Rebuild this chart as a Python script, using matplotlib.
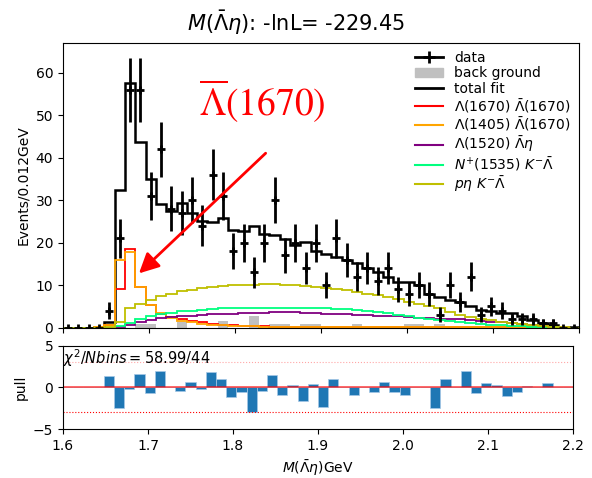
import numpy as np
import matplotlib
matplotlib.use("Agg")
import matplotlib.pyplot as plt
from matplotlib.patches import Patch
from matplotlib.lines import Line2D

# --- Binning: 50 bins of 0.012 GeV ---
edges = np.round(np.linspace(1.6, 2.2, 51), 4)
centers = 0.5 * (edges[:-1] + edges[1:])

# --- Data counts per bin ---
data = [0, 0, 0, 0, 4, 21, 56, 56, 31, 42,
        28, 27, 30, 24, 36, 31, 18, 20, 13, 20,
        30, 17, 20, 14, 20, 10, 21, 16, 12, 14,
        11, 14, 9, 8, 10, 8, 3, 10, 6, 12,
        3, 5, 4, 2, 2, 2, 1, 1, 0, 0]

total_fit = [0.0, 0.0, 0.0, 0.2, 1.2, 32.5, 57.5, 43.8, 35.0, 29.0,
             27.5, 29.3, 27.0, 25.0, 24.9, 25.7, 22.9, 22.7, 23.8, 22.0,
             21.8, 20.9, 19.4, 20.2, 18.0, 17.3, 16.6, 16.0, 15.3, 14.0,
             13.0, 11.8, 10.8, 10.7, 10.0, 8.0, 7.3, 6.5, 6.0, 5.1,
             4.2, 3.8, 3.4, 3.4, 2.8, 1.8, 1.0, 0.6, 0.2, 0.05]

background = [0, 0, 0, 0, 0, 0, 0, 0.8, 0.8, 0,
              0, 1.4, 0, 0, 0, 1.5, 0, 0, 2.8, 0,
              0.9, 0.9, 0, 0.8, 0.8, 0, 0, 0, 0.8, 0,
              0, 0, 0, 0.8, 0.8, 0, 0.8, 0, 0, 0,
              0, 0, 0, 0, 0, 0, 0, 0, 0, 0]

lam1670 = [0, 0, 0, 0, 0.5, 9.0, 18.6, 9.6, 5.2, 3.3,
           2.5, 2.0, 1.6, 1.2, 0.9, 0.6, 0.5, 0.4, 0.3, 0.3,
           0.2, 0.2, 0.15, 0.15, 0.1, 0.1, 0.1, 0.1, 0.1, 0.05,
           0.05, 0.05, 0.05, 0.05, 0.05, 0.05, 0.05, 0.05, 0.05, 0.05,
           0.05, 0.05, 0.05, 0.05, 0.05, 0.05, 0.05, 0.05, 0.0, 0.0]

lam1405 = [0, 0, 0, 0.1, 0.6, 15.8, 17.8, 9.6, 5.2, 3.4,
           2.3, 1.6, 1.2, 0.9, 0.7, 0.5, 0.4, 0.3, 0.25, 0.2,
           0.2, 0.15, 0.15, 0.1, 0.1, 0.1, 0.1, 0.1, 0.05, 0.05,
           0.05, 0.05, 0.05, 0.05, 0.05, 0.05, 0.05, 0.05, 0.05, 0.05,
           0.05, 0.05, 0.05, 0.05, 0.05, 0.05, 0.05, 0.05, 0.0, 0.0]

lam1520 = [0, 0, 0, 0, 0, 0.1, 0.5, 1.2, 1.8, 2.2,
           2.4, 2.6, 2.8, 3.0, 3.1, 3.2, 3.3, 3.4, 3.5, 3.5,
           3.6, 3.6, 3.6, 3.5, 3.4, 3.3, 3.2, 3.1, 3.0, 2.9,
           2.8, 2.7, 2.6, 2.5, 2.3, 2.2, 2.1, 2.0, 1.9, 1.7,
           1.6, 1.4, 1.2, 1.0, 0.8, 0.6, 0.35, 0.15, 0.05, 0.0]

n1535 = [0, 0, 0, 0, 0, 0.3, 1.0, 2.0, 2.6, 3.1,
         3.5, 3.8, 4.0, 4.2, 4.4, 4.5, 4.6, 4.7, 4.7, 4.7,
         4.7, 4.7, 4.6, 4.6, 4.5, 4.5, 4.4, 4.3, 4.2, 4.0,
         3.7, 3.4, 3.0, 2.6, 2.3, 2.0, 1.7, 1.5, 1.3, 1.1,
         0.9, 0.7, 0.5, 0.35, 0.25, 0.15, 0.1, 0.05, 0.0, 0.0]

peta = [0, 0, 0, 0, 0.1, 1.3, 4.5, 5.5, 6.5, 7.4,
        8.0, 8.5, 8.9, 9.2, 9.5, 9.7, 9.9, 10.0, 10.1, 10.2,
        10.2, 10.1, 10.0, 9.8, 9.6, 9.4, 9.1, 8.8, 8.4, 8.0,
        7.6, 7.1, 6.6, 6.0, 5.5, 5.0, 4.5, 3.7, 3.0, 2.5,
        2.0, 1.7, 1.4, 1.1, 0.8, 0.5, 0.3, 0.15, 0.05, 0.0]

pull = [0, 0, 0, 0, 1.36, -2.5, -0.2, 1.65, -0.7, 2.0,
        0.1, -0.45, 0.65, -0.2, 1.85, 0.95, -1.15, -0.6, -3.0, -0.45,
        1.5, -0.95, 0.3, -1.65, 0.45, -2.3, 0.95, 0.0, -0.95, 0.0,
        -0.6, 0.6, -0.6, -0.95, 0.0, 0.0, -2.5, 1.05, 0.0, 2.0,
        -0.7, 0.55, 0.3, -1.0, -0.55, 0.15, 0.0, 0.55, 0, 0]

components = [
    (lam1670, "red", r"$\Lambda(1670)$ $\bar{\Lambda}(1670)$"),
    (lam1405, "orange", r"$\Lambda(1405)$ $\bar{\Lambda}(1670)$"),
    (lam1520, "purple", r"$\Lambda(1520)$ $\bar{\Lambda}\eta$"),
    (n1535, "springgreen", r"$N^{+}(1535)$ $K^{-}\bar{\Lambda}$"),
    (peta, "y", r"$p\eta$ $K^{-}\bar{\Lambda}$"),
]

# --- Figure ---
fig = plt.figure(figsize=(5.92, 4.78), dpi=100)
ax = fig.add_axes([0.1064, 0.3148, 0.8716, 0.5952])
axp = fig.add_axes([0.1064, 0.1025, 0.8615, 0.1743])

bw = 0.012
ax.bar(edges[:-1], background, width=bw, align="edge", color="#c0c0c0", linewidth=0)
ax.stairs(total_fit, edges, color="k", lw=1.8)
for vals, col, lab in components:
    ax.stairs(vals, edges, color=col, lw=1.3)

yerr = np.sqrt(data)
ax.errorbar(centers, data, yerr=yerr, fmt="+", color="k", ms=6, mew=2, elinewidth=2)

ax.set_xlim(1.6, 2.2)
ax.set_ylim(0, 67)
ax.set_xticks(np.arange(1.6, 2.21, 0.1))
ax.set_xticklabels([])
ax.set_yticks(np.arange(0, 61, 10))
ax.set_ylabel("Events/0.012GeV")

# annotation for the Lambda-bar(1670)
ax.text(1.758, 49.7, r"$\overline{\Lambda}(1670)$", color="red", fontsize=27,
        math_fontfamily="stix", ha="left", va="baseline")
ax.annotate("", xy=(1.686, 12.3), xytext=(1.838, 41.5),
            arrowprops=dict(arrowstyle="-|>", color="red", lw=2, mutation_scale=30))

handles = [
    Line2D([], [], color="k", marker="+", ms=8, mew=2, lw=2),
    Patch(color="#c0c0c0"),
    Line2D([], [], color="k", lw=2),
] + [Line2D([], [], color=c, lw=1.5) for _, c, _ in components]
labels = ["data", "back ground", "total fit"] + [l for _, _, l in components]
ax.legend(handles, labels, loc="upper right", frameon=False, fontsize=10,
          labelspacing=0.08, handlelength=2.0, borderaxespad=0.2)

fig.text(0.5, 0.953, r"$M(\bar{\Lambda}\eta)$: -lnL= -229.45", ha="center", va="center", fontsize=15)

# --- Pull panel ---
axp.bar(edges[:-1], pull, width=bw, align="edge", color="#1f77b4", edgecolor="#a6c8e6", linewidth=0.5)
axp.axhline(0, color="red", lw=1.2, alpha=0.7)
axp.axhline(3, color="red", lw=0.8, ls=":", alpha=0.35)
axp.axhline(-3, color="red", lw=0.8, ls=":")
axp.set_xlim(1.6, 2.2)
axp.set_ylim(-5, 5)
axp.set_yticks([-5, 0, 5])
axp.set_xticks(np.arange(1.6, 2.21, 0.1))
axp.set_xticklabels([f"{v:.1f}" for v in np.arange(1.6, 2.21, 0.1)])
axp.set_ylabel("pull")
axp.set_xlabel(r"$M(\bar{\Lambda}\eta)$GeV")
axp.text(0.0, 0.98, r"$\chi^2/Nbins=58.99/44$", transform=axp.transAxes, ha="left", va="top", fontsize=10.5)

fig.savefig("out.png", dpi=100)
